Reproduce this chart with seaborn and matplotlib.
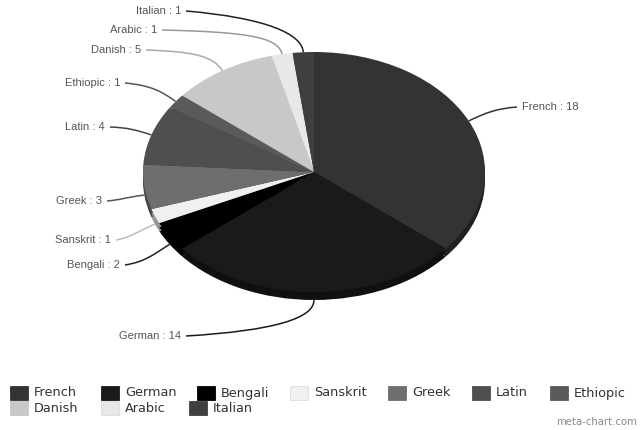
import numpy as np
import seaborn as sns
import matplotlib
matplotlib.use("Agg")
import matplotlib.pyplot as plt
from matplotlib.patches import PathPatch, Rectangle
from matplotlib.path import Path

languages = ["French", "German", "Bengali", "Sanskrit", "Greek", "Latin", "Ethiopic", "Danish", "Arabic", "Italian"]
counts = [18, 14, 2, 1, 3, 4, 1, 5, 1, 1]
shades = ["#333333", "#1a1a1a", "#000000", "#f0f0f0", "#6e6e6e", "#4f4f4f", "#5a5a5a", "#c8c8c8", "#e8e8e8", "#3f3f3f"]
line_shades = ["#333333", "#1a1a1a", "#222222", "#bbbbbb", "#555555", "#444444", "#555555", "#aaaaaa", "#999999", "#222222"]

sns.set_theme(style="white")
palette = sns.color_palette(shades)
rim = [tuple(c * 0.62 for c in col) for col in palette]

W, H = 640, 430
CX, CY, RX, RY, DEPTH = 314, 172, 171, 120, 8

fig = plt.figure(figsize=(W / 100, H / 100), dpi=100, facecolor="white")
ax = fig.add_axes([0, 0, 1, 1])
for off in (DEPTH, DEPTH / 2):
    ax.pie(counts, colors=rim, startangle=90, counterclock=False, center=(0, -off / RY), radius=1,
           wedgeprops=dict(linewidth=0))
ax.pie(counts, colors=palette, startangle=90, counterclock=False, radius=1,
       wedgeprops=dict(linewidth=0))
ax.set_aspect("auto")
ax.set_xlim(-CX / RX, (W - CX) / RX)
ax.set_ylim((CY - H) / RY, CY / RY)
ax.axis("off")

ov = fig.add_axes([0, 0, 1, 1], facecolor="none")
ov.set_xlim(0, W)
ov.set_ylim(H, 0)
ov.axis("off")

# label anchors (layout, pixels): text edge x, text y
label_pos = [(522, 107), (181, 336), (120, 265), (111, 240), (102, 201),
             (105, 127), (120, 83), (141, 50), (157, 30), (181, 11)]

frac = np.cumsum([0] + counts) / sum(counts)
for i, (name, n) in enumerate(zip(languages, counts)):
    th = (frac[i] + frac[i + 1]) * np.pi
    sx, sy = np.sin(th), -np.cos(th)
    ex = CX + RX * sx
    ey = CY + RY * sy + (DEPTH if sy > 0.1 else 0)
    tx, ty = label_pos[i]
    right = sx > 0.01
    ha = "left" if right else "right"
    ov.text(tx, ty, f"{name} : {n}", ha=ha, va="center", fontsize=8,
            family="Liberation Sans", color="#555555")
    lx = tx - 5 if right else tx + 5
    c1 = (ex + 18 * sx, ey + 18 * sy)
    c2 = (c1[0] + (lx - c1[0]) * 0.3, ty + (c1[1] - ty) * 0.3)
    path = Path([(ex, ey), c1, c2, (lx, ty)], [Path.MOVETO, Path.CURVE4, Path.CURVE4, Path.CURVE4])
    ov.add_patch(PathPatch(path, fill=False, ec=line_shades[i], lw=1.1))

# legend rows (layout, pixels)
legend_x = [10, 101, 197, 290, 388, 472, 550, 10, 101, 189]
legend_y = [393, 393, 393, 393, 393, 393, 393, 408, 408, 408]
for name, col, x, y in zip(languages, palette, legend_x, legend_y):
    light = name in ("Sanskrit", "Arabic")
    ov.add_patch(Rectangle((x, y - 7), 18, 14, fc=col, ec="#dddddd" if light else col, lw=0.6))
    ov.text(x + 24, y, name, ha="left", va="center", fontsize=9.3, family="DejaVu Sans", color="#333333")

ov.text(637, 422, "meta-chart.com", ha="right", va="center", fontsize=7.3, family="DejaVu Sans", color="#888888")

fig.savefig("out.png", dpi=100)
